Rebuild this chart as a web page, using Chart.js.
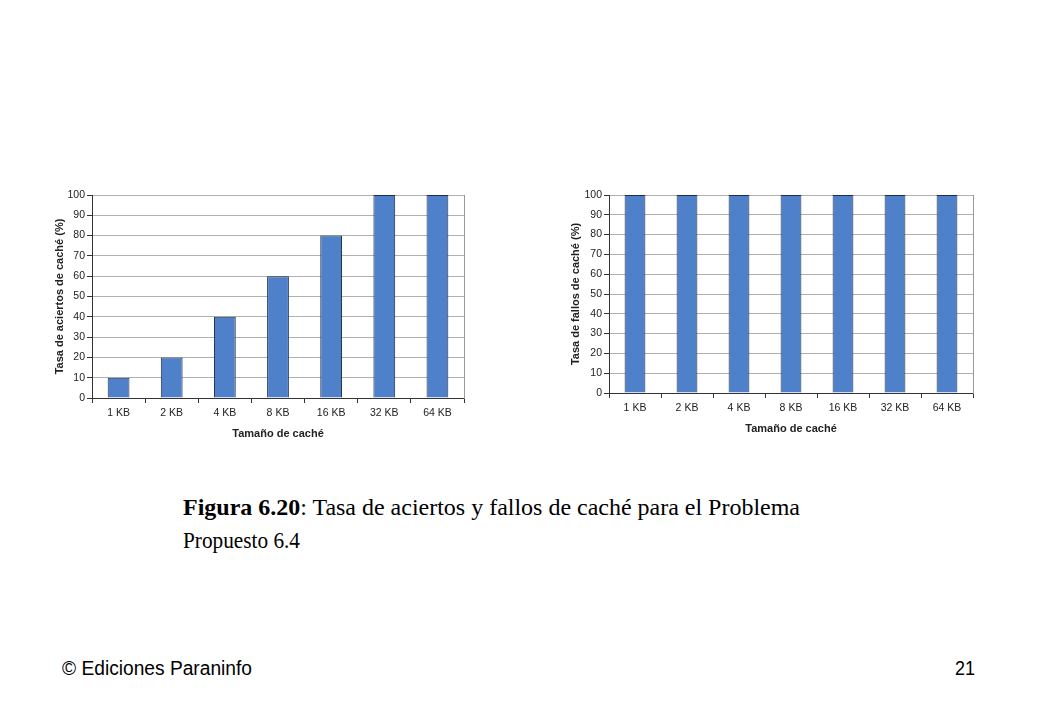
<!DOCTYPE html>
<html><head><meta charset="utf-8">
<script src="https://cdn.jsdelivr.net/npm/chart.js@4.4.0/dist/chart.umd.min.js"></script>
<style>
html,body{margin:0;padding:0;background:#fff;width:1040px;height:720px;overflow:hidden;}
.box{position:absolute;}
.txt{position:absolute;white-space:nowrap;transform-origin:0 0;}
</style></head>
<body>
<div class="box" style="left:49px;top:185px;width:421px;height:260px;"><canvas id="c1"></canvas></div>
<div class="box" style="left:565px;top:185px;width:414px;height:255px;"><canvas id="c2"></canvas></div>
<div id="cap1" class="txt" style="left:183px;top:494px;font:24px 'Liberation Serif';color:#000;"><b>Figura 6.20</b>: Tasa de aciertos y fallos de caché para el Problema</div>
<div id="cap2" class="txt" style="left:183px;top:527px;font:24px 'Liberation Serif';color:#000;">Propuesto 6.4</div>
<div id="foot1" class="txt" style="left:62px;top:657px;font:20px 'Liberation Sans';color:#000;">© Ediciones Paraninfo</div>
<div id="foot2" class="txt" style="left:955px;top:657px;font:20px 'Liberation Sans';color:#000;">21</div>
<script>
const categories = ['1 KB','2 KB','4 KB','8 KB','16 KB','32 KB','64 KB'];
const hitRate = [10, 20, 40, 60, 80, 100, 100];
const missRate = [100, 100, 100, 100, 100, 100, 100];
const xTitle = 'Tamaño de caché';
const yTitleHit = 'Tasa de aciertos de caché (%)';
const yTitleMiss = 'Tasa de fallos de caché (%)';

function scaleText(id, w){
  const el = document.getElementById(id);
  const r = el.getBoundingClientRect();
  el.style.transform = 'scaleX(' + (w / r.width) + ')';
}

function makeChart(id, data, yTitle, yWidth, xHeight, barPct){
  return new Chart(document.getElementById(id), {
    type: 'bar',
    data: { labels: categories, datasets: [{
      data: data,
      backgroundColor: '#4f81ca',
      borderColor: '#1f2d44',
      borderWidth: 1,
      barPercentage: barPct,
      categoryPercentage: 1
    }]},
    options: {
      responsive: true, maintainAspectRatio: false, animation: false,
      layout: { padding: { top: 10, right: 6, left: 0, bottom: 0 } },
      plugins: { legend: { display: false }, tooltip: { enabled: false } },
      scales: {
        x: {
          offset: true,
          grid: { display: true, offset: true, drawOnChartArea: false, tickLength: 5, tickColor: '#333', color: '#333' },
          border: { display: true, color: '#333', width: 1 },
          ticks: { color: '#222', font: { family: 'Liberation Sans', size: 10.5 }, padding: 4, maxRotation: 0 },
          title: { display: true, text: xTitle, color: '#222', font: { family: 'Liberation Sans', size: 11, weight: 'bold' }, padding: { top: 2 } },
          afterFit: s => { s.height = xHeight; }
        },
        y: {
          min: 0, max: 100,
          ticks: { stepSize: 10, color: '#222', font: { family: 'Liberation Sans', size: 10.5 }, padding: 2 },
          grid: { color: '#b0b0b0', tickColor: '#333', tickLength: 5, lineWidth: 1 },
          border: { display: true, color: '#333', width: 1 },
          title: { display: true, text: yTitle, color: '#222', font: { family: 'Liberation Sans', size: 11, weight: 'bold' }, padding: { bottom: 2 } },
          afterFit: s => { s.width = yWidth; }
        },
        y2: {
          position: 'right', min: 0, max: 100,
          ticks: { display: false },
          grid: { display: false },
          border: { display: true, color: '#999', width: 1 },
          afterFit: s => { s.width = 0; }
        }
      }
    }
  });
}

makeChart('c1', hitRate, yTitleHit, 43, 47, 0.41);
makeChart('c2', missRate, yTitleMiss, 44, 47, 0.40);

scaleText('cap1', 617);
scaleText('cap2', 117);
scaleText('foot1', 190);
scaleText('foot2', 20);
</script>
</body></html>
